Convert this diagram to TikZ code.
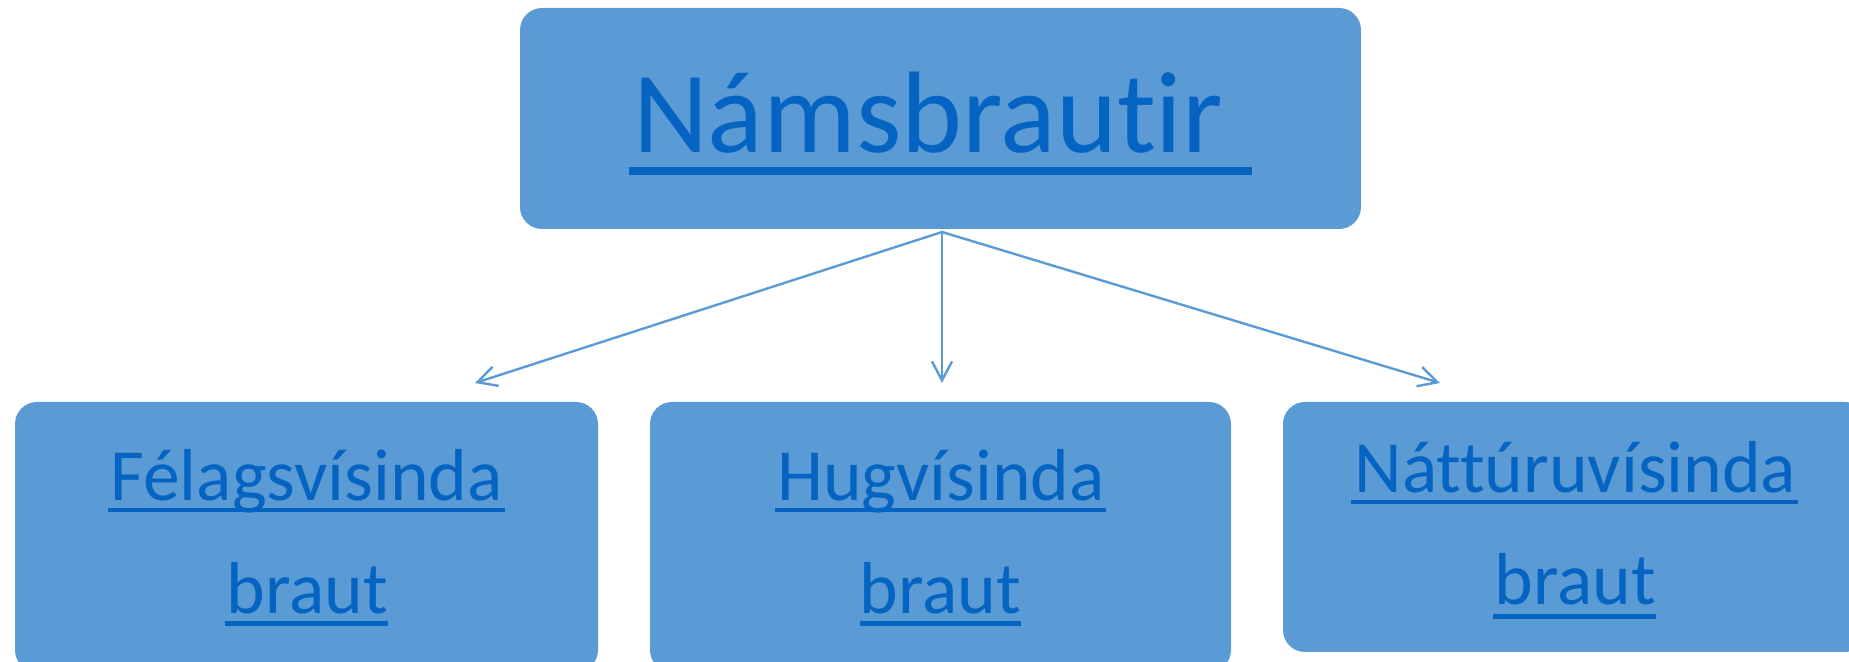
\documentclass[tikz,border=0pt]{standalone}
\usepackage{fontspec}
\setmainfont{Carlito}[Ligatures={NoCommon}]
\usetikzlibrary{arrows.meta}
\definecolor{boxfill}{HTML}{5B9BD5}
\definecolor{linkblue}{HTML}{0563C1}
\begin{document}
\begin{tikzpicture}[x=0.5pt,y=-0.5pt,
  box/.style={fill=boxfill, draw=none, rounded corners=11pt, inner sep=0pt},
  bigtxt/.style={text=linkblue, inner sep=0pt, anchor=base, font=\fontsize{58pt}{58pt}\selectfont},
  smalltxt/.style={text=linkblue, inner sep=0pt, anchor=base, font=\fontsize{36.8pt}{36.8pt}\selectfont},
  uline/.style={fill=linkblue},
  conn/.style={draw=boxfill, line width=1.2pt, -{Straight Barb[length=9.5pt,width=10pt,line width=1.2pt]}}
]
\useasboundingbox (0,0) rectangle (1849,662);
\clip (0,0) rectangle (1849,662);

% boxes
\node[box, minimum width=420.5pt, minimum height=110.5pt] (top) at (940.5,118.5) {};
\node[box, minimum width=291.5pt, minimum height=135pt] (b1) at (306.5,537) {};
\node[box, minimum width=290.5pt, minimum height=135pt] (b2) at (940.5,537) {};
\node[box, minimum width=292pt, minimum height=125pt] (b3) at (1575,527) {};

% texts
\node[bigtxt] (t0) at (928,153) {Námsbrautir};
\fill[uline] (629,167) rectangle (1252,175);

\node[smalltxt] (t1a) at (306.6,501) {Félagsvísinda};
\fill[uline] (108,508.5) rectangle (505,512.5);
\node[smalltxt] (t1b) at (307.5,614) {braut};
\fill[uline] (225,621) rectangle (388,626);

\node[smalltxt] (t2a) at (941,501) {Hugvísinda};
\fill[uline] (775,508.5) rectangle (1106,512.5);
\node[smalltxt] (t2b) at (940.5,614) {braut};
\fill[uline] (860,621) rectangle (1021,626);

\node[smalltxt] (t3a) at (1575.4,493) {Náttúruvísinda};
\fill[uline] (1351,500) rectangle (1798,504);
\node[smalltxt] (t3b) at (1575.5,605) {braut};
\fill[uline] (1493,614) rectangle (1656,619);

% connectors
\coordinate (src) at (942,232);
\coordinate (e1) at (475,383);
\coordinate (e2) at (942,383);
\coordinate (e3) at (1440,383);
\draw[conn] (src) -- (e1);
\draw[conn] (src) -- (e2);
\draw[conn] (src) -- (e3);
\end{tikzpicture}
\end{document}
